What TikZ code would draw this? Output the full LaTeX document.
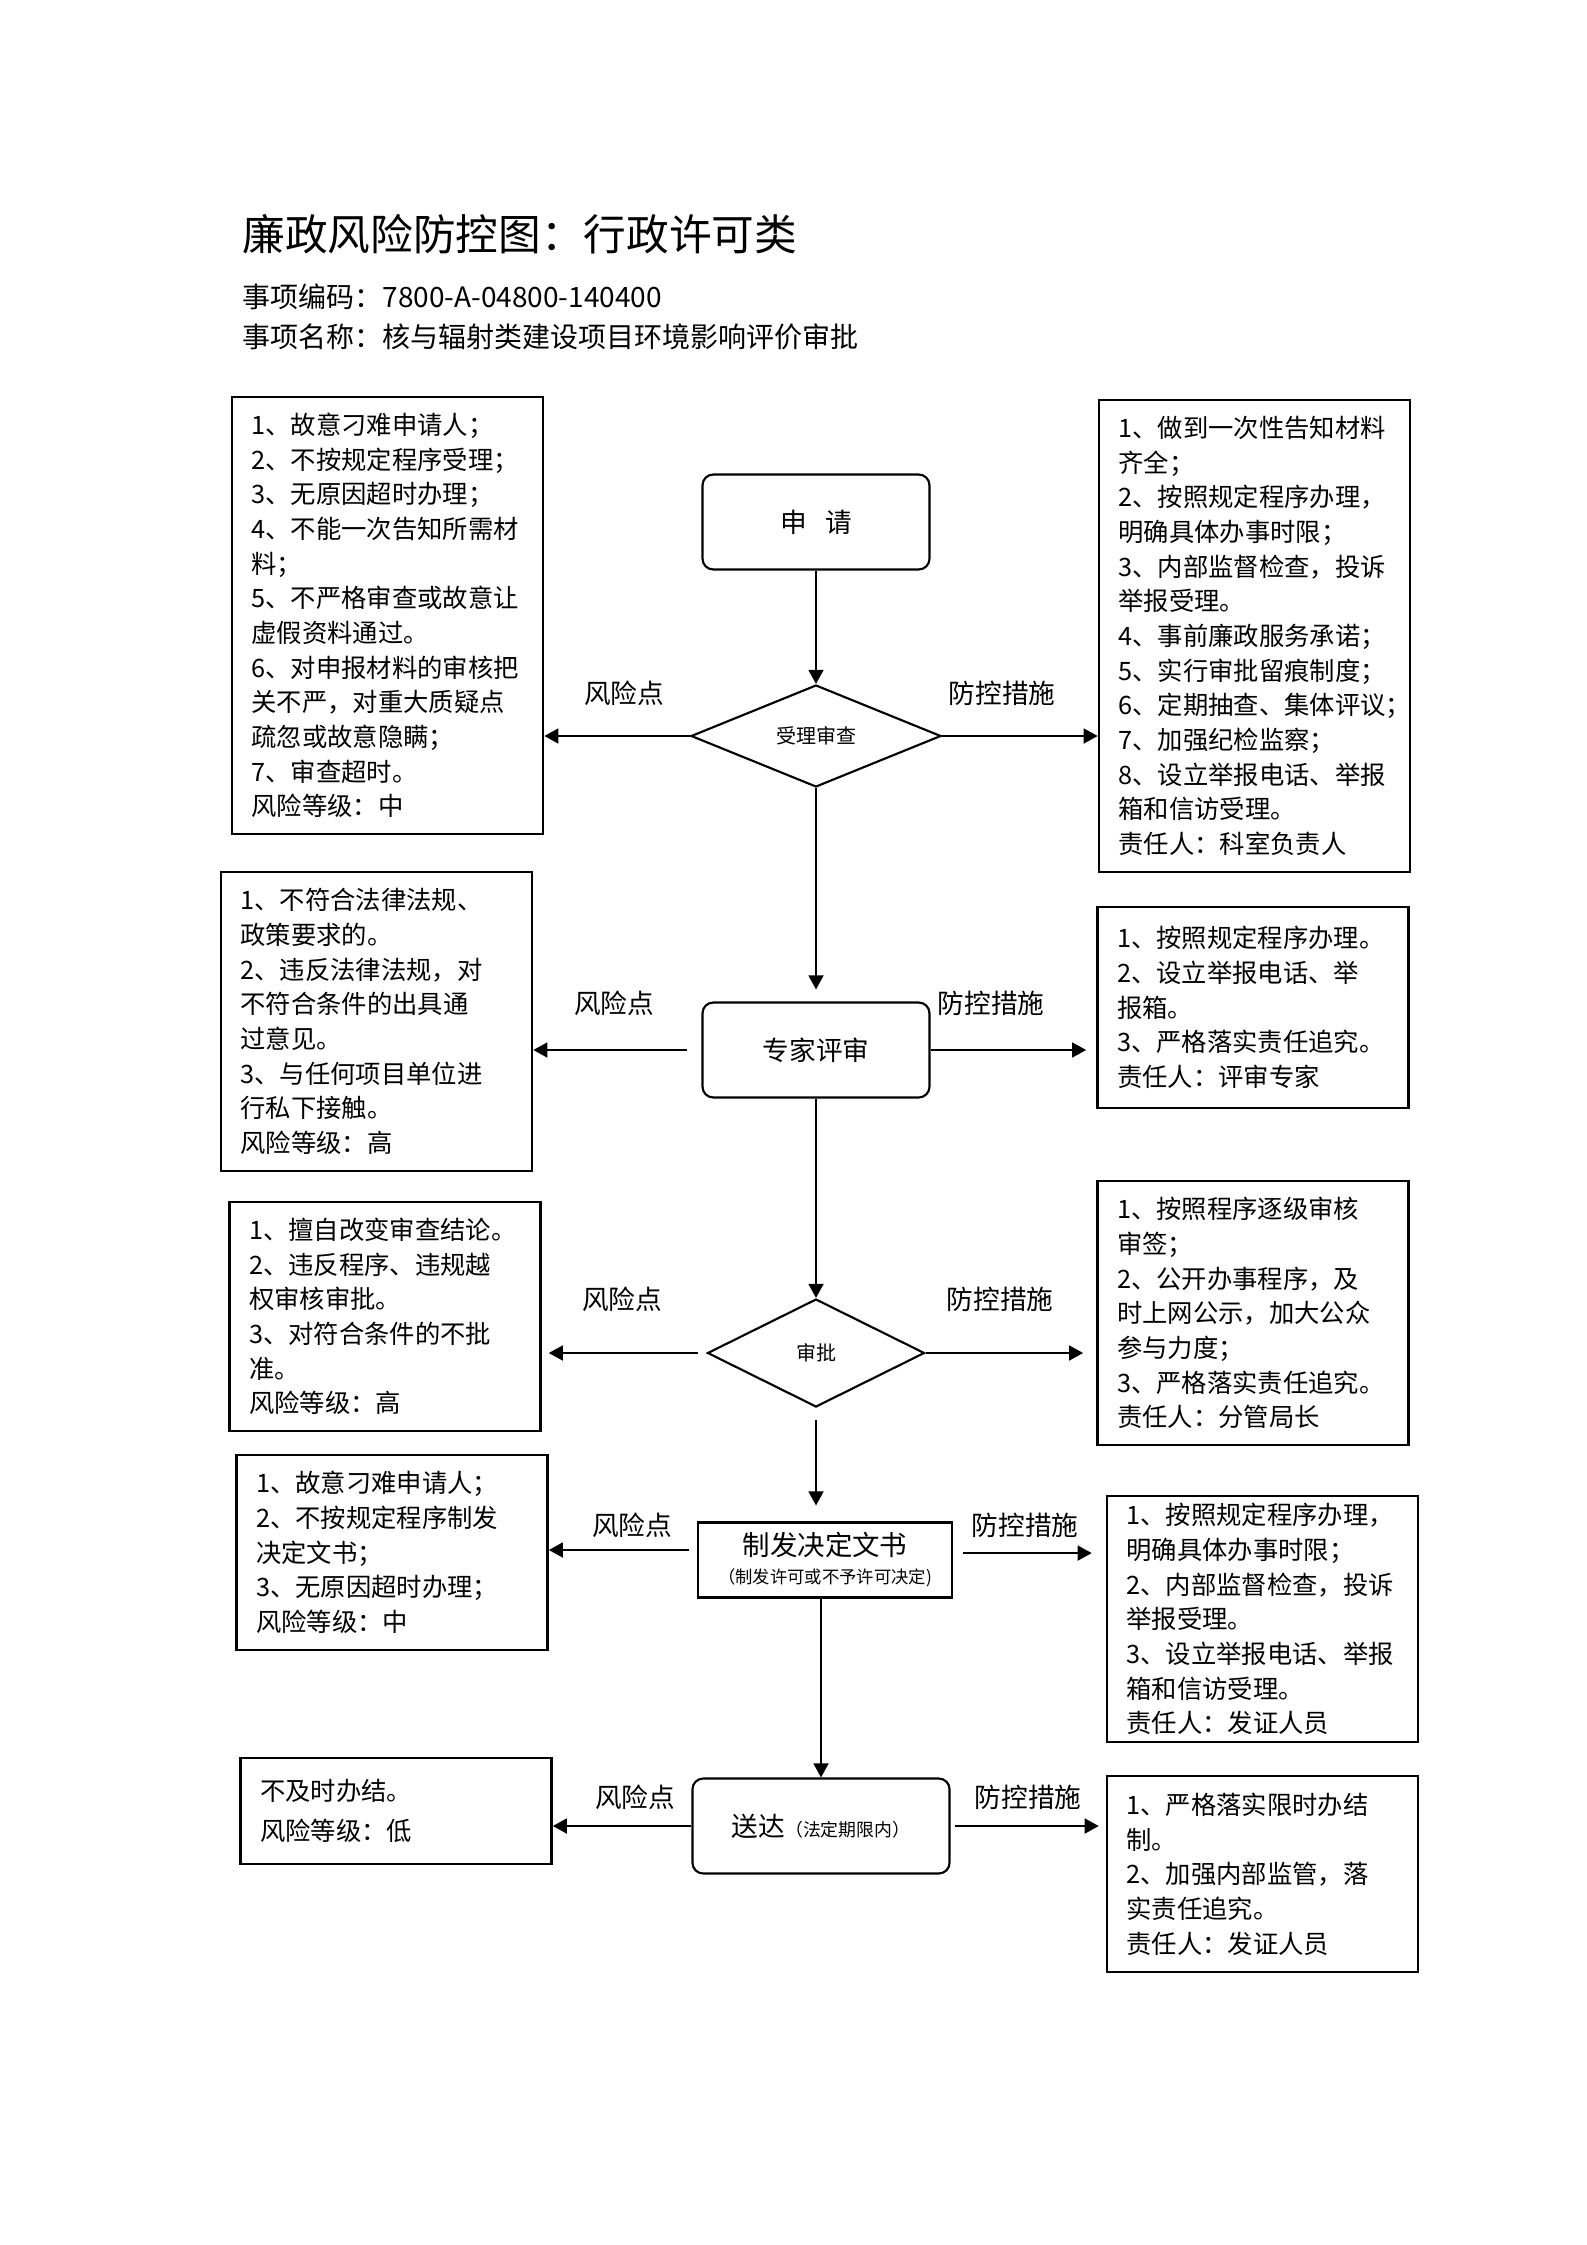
\documentclass[tikz,border=0pt]{standalone}
\usepackage{fontspec}
\setmainfont{Noto Sans CJK SC}
\usetikzlibrary{shapes.geometric, arrows.meta}
\newcommand{\bxfont}{\fontsize{9.5}{13}\selectfont}

\begin{document}
\begin{tikzpicture}[x=0.375pt, y=-0.375pt,
	risk/.style={draw, line width=1pt, minimum width=116.6pt, text width=102pt, inner xsep=7.3pt, inner ysep=0pt, align=left, font=\bxfont},
	stepbox/.style={draw, line width=0.8pt, rounded corners=4pt, minimum width=85.1pt, minimum height=35.6pt, font=\fontsize{10}{12}\selectfont},
	check/.style={draw, diamond, line width=0.8pt, inner sep=0pt, font=\fontsize{7.5}{9}\selectfont},
	lbl/.style={font=\fontsize{10}{12}\selectfont},
	head/.style={anchor=west, inner sep=0pt},
	flow/.style={-{Triangle[length=5.3pt,width=5.6pt]}, line width=0.8pt}]
		\useasboundingbox (0,0) rectangle (1587,2245);
		
		\node[head, font=\fontsize{16}{19}\selectfont] (title) at (242,234) {廉政风险防控图：行政许可类};
		\node[head, font=\fontsize{10.5}{13}\selectfont] (code) at (242,297) {事项编码：7800-A-04800-140400};
		\node[head, font=\fontsize{10.5}{13}\selectfont] (item) at (242,337) {事项名称：核与辐射类建设项目环境影响评价审批};
		
		\node[stepbox] (apply) at (816,522) {申\hspace{0.7em}请};
		\node[check, minimum width=93.75pt, minimum height=38.25pt] (accept) at (816,736) {受理审查};
		\node[stepbox] (expert) at (816,1050) {专家评审};
		\node[check, minimum width=81.4pt, minimum height=40.5pt] (approve) at (816,1353) {审批};
		\node[draw, line width=0.8pt, minimum width=95.25pt, minimum height=28.1pt, inner sep=0pt, align=center, font=\fontsize{10.3}{10.5}\selectfont] (issue) at (825,1560) {制发决定文书\\{\fontsize{6.5}{8}\selectfont （制发许可或不予许可决定)}};
		\node[stepbox, minimum width=96.4pt] (deliver) at (821,1826) {送达{\fontsize{6.7}{8}\selectfont （法定期限内）}};
		
		\node[risk, minimum height=163.9pt] (risk1) at (387.5,615.5) {1、故意刁难申请人；\\2、不按规定程序受理；\\3、无原因超时办理；\\4、不能一次告知所需材\\料；\\5、不严格审查或故意让\\虚假资料通过。\\6、对申报材料的审核把\\关不严，对重大质疑点\\疏忽或故意隐瞒；\\7、审查超时。\\风险等级：中};
		\node[risk, minimum height=177pt] (ctrl1) at (1254.5,636) {1、做到一次性告知材料\\齐全；\\2、按照规定程序办理，\\明确具体办事时限；\\3、内部监督检查，投诉\\举报受理。\\4、事前廉政服务承诺；\\5、实行审批留痕制度；\\6、定期抽查、集体评议；\\7、加强纪检监察；\\8、设立举报电话、举报\\箱和信访受理。\\责任人：科室负责人};
		\node[risk, minimum height=112.1pt] (risk2) at (376.5,1021.5) {1、不符合法律法规、\\政策要求的。\\2、违反法律法规，对\\不符合条件的出具通\\过意见。\\3、与任何项目单位进\\行私下接触。\\风险等级：高};
		\node[risk, minimum height=75.4pt] (ctrl2) at (1253,1007.5) {1、按照规定程序办理。\\2、设立举报电话、举\\报箱。\\3、严格落实责任追究。\\责任人：评审专家};
		\node[risk, minimum height=85.9pt] (risk3) at (385,1316.5) {1、擅自改变审查结论。\\2、违反程序、违规越\\权审核审批。\\3、对符合条件的不批\\准。\\风险等级：高};
		\node[risk, minimum height=99pt] (ctrl3) at (1253,1313) {1、按照程序逐级审核\\审签；\\2、公开办事程序，及\\时上网公示，加大公众\\参与力度；\\3、严格落实责任追究。\\责任人：分管局长};
		\node[risk, minimum height=73.1pt] (risk4) at (392,1552.5) {1、故意刁难申请人；\\2、不按规定程序制发\\决定文书；\\3、无原因超时办理；\\风险等级：中};
		\node[risk, minimum height=92.25pt] (ctrl4) at (1262.5,1619) {1、按照规定程序办理，\\明确具体办事时限；\\2、内部监督检查，投诉\\举报受理。\\3、设立举报电话、举报\\箱和信访受理。\\责任人：发证人员};
		\node[risk, minimum height=39.75pt, font=\fontsize{9.5}{15}\selectfont] (risk5) at (396,1811) {不及时办结。\\风险等级：低};
		\node[risk, minimum height=73.5pt] (ctrl5) at (1262.5,1874) {1、严格落实限时办结\\制。\\2、加强内部监管，落\\实责任追究。\\责任人：发证人员};
		
		\node[lbl] (rp1) at (624,693) {风险点};
		\node[lbl] (cm1) at (1002,693) {防控措施};
		\node[lbl] (rp2) at (614,1003) {风险点};
		\node[lbl] (cm2) at (991,1003) {防控措施};
		\node[lbl] (rp3) at (622,1299) {风险点};
		\node[lbl] (cm3) at (1000,1299) {防控措施};
		\node[lbl] (rp4) at (632,1525) {风险点};
		\node[lbl] (cm4) at (1025,1525) {防控措施};
		\node[lbl] (rp5) at (635,1797) {风险点};
		\node[lbl] (cm5) at (1028,1797) {防控措施};
		
		\draw[flow] (apply) -- (accept);
		\draw[flow] (accept.west) -- (accept.west -| risk1.east);
		\draw[flow] (accept.east) -- (accept.east -| ctrl1.west);
		\draw[flow, shorten >=4.5pt] (accept) -- (expert);
		
		\draw[flow, shorten <=5.6pt] (expert.west) -- (expert.west -| risk2.east);
		\draw[flow, shorten >=3.75pt] (expert.east) -- (expert.east -| ctrl2.west);
		\draw[flow] (expert) -- (approve);
		
		\draw[flow, shorten <=3pt, shorten >=2.6pt] (approve.west) -- (approve.west -| risk3.east);
		\draw[flow, shorten >=4.9pt] (approve.east) -- (approve.east -| ctrl3.west);
		\draw[flow, shorten <=4.5pt, shorten >=6pt] (approve.south) -- (approve.south |- issue.north);
		
		\draw[flow, shorten <=3pt] ([yshift=3.75pt]issue.west) -- ([yshift=3.75pt]issue.west -| risk4.east);
		\draw[flow, shorten <=3.75pt, shorten >=5.25pt] ([yshift=2.6pt]issue.east) -- ([yshift=2.6pt]issue.east -| ctrl4.west);
		\draw[flow] (deliver.north |- issue.south) -- (deliver.north);
		
		\draw[flow] (deliver.west) -- (deliver.west -| risk5.east);
		\draw[flow, shorten <=1.5pt, shorten >=2.6pt] (deliver.east) -- (deliver.east -| ctrl5.west);
		
	\end{tikzpicture}
\end{document}
